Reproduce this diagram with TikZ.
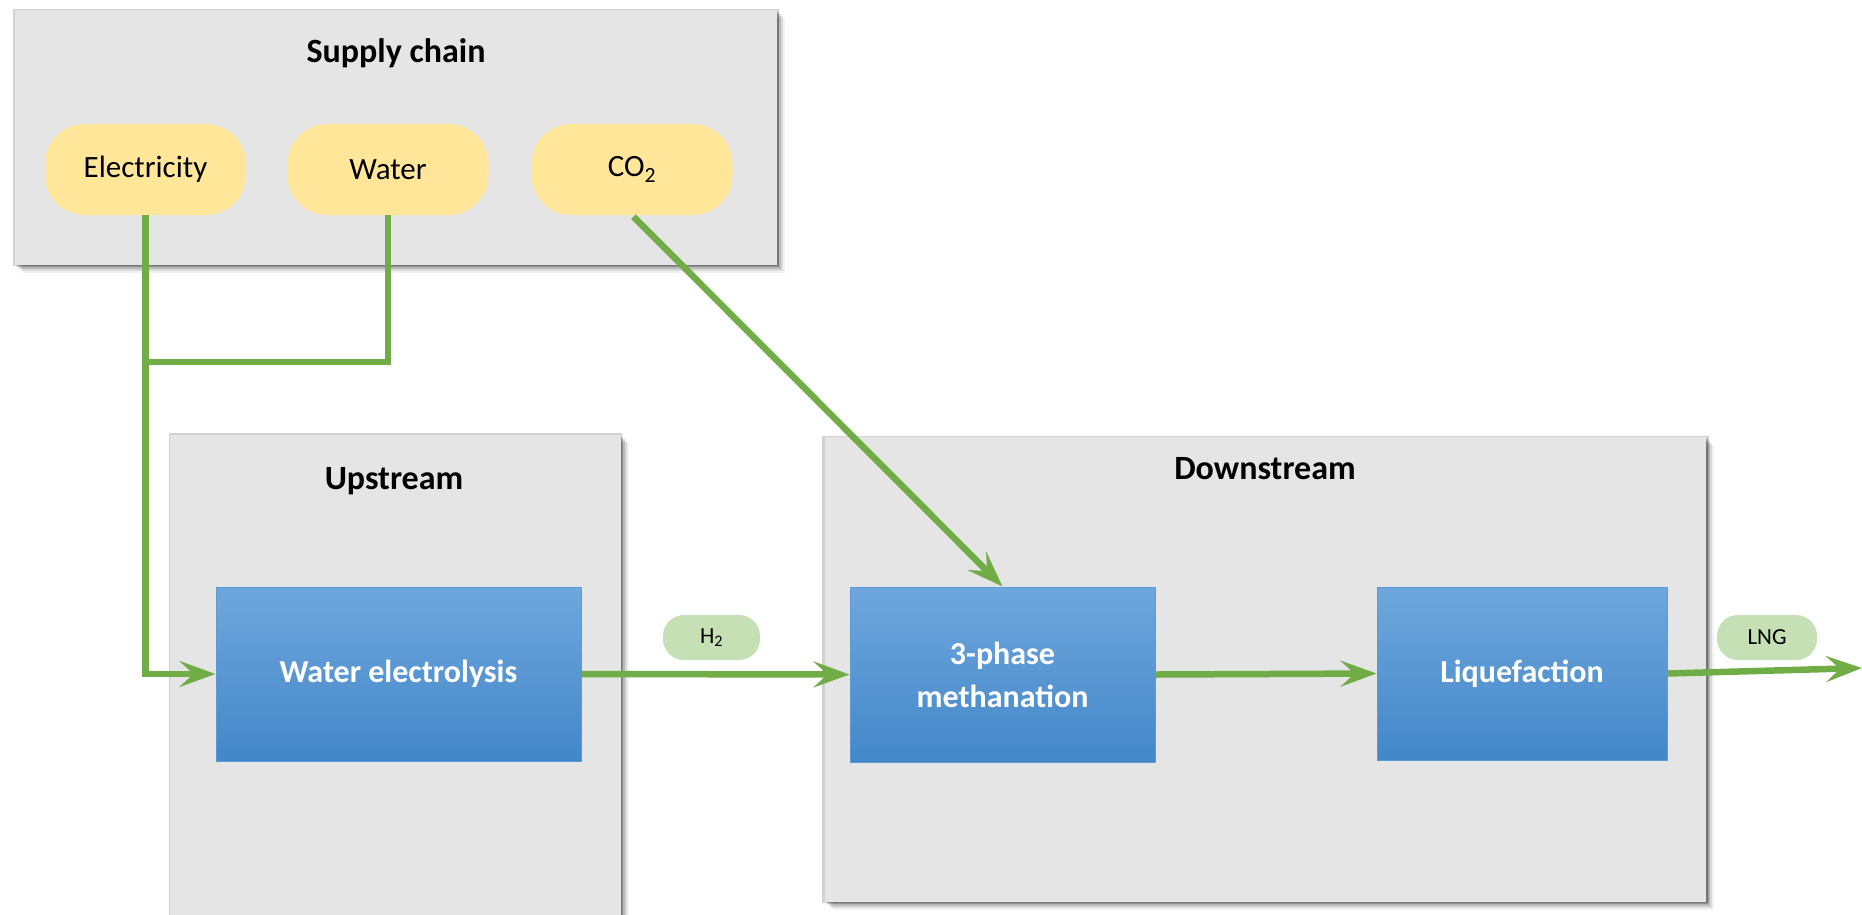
\documentclass[tikz,border=0pt]{standalone}
\usepackage{fontspec}
\setmainfont{Carlito}
\usetikzlibrary{arrows.meta,shadows}
\definecolor{panelgray}{HTML}{E5E5E5}
\definecolor{pillyellow}{HTML}{FFE699}
\definecolor{pillgreen}{HTML}{C5E0B4}
\definecolor{flowgreen}{HTML}{70AD47}
\definecolor{bluetop}{HTML}{6FA7DD}
\definecolor{bluebot}{HTML}{4387C9}
\definecolor{blueedge}{HTML}{5B9BD5}
\tikzset{
  container/.style={fill=panelgray, inner sep=0pt, draw=none,
    drop shadow={shadow xshift=2pt, shadow yshift=-2pt, opacity=.22, fill=black},
    drop shadow={shadow xshift=4pt, shadow yshift=-4pt, opacity=.15, fill=black},
    drop shadow={shadow xshift=6pt, shadow yshift=-6pt, opacity=.10, fill=black},
    drop shadow={shadow xshift=8pt, shadow yshift=-8pt, opacity=.05, fill=black},
    drop shadow={shadow xshift=0pt, shadow yshift=0pt, shadow scale=1.006, opacity=.18, fill=black}},
  paneltitle/.style={font=\fontsize{34}{40}\selectfont\bfseries, text=black},
  supply/.style={fill=pillyellow, rounded corners=40pt, minimum width=201pt,
    minimum height=91pt, inner sep=0pt, font=\fontsize{31}{36}\selectfont},
  tag/.style={fill=pillgreen, rounded corners=21pt, minimum height=45pt,
    inner sep=0pt, font=\fontsize{23}{28}\selectfont},
  process/.style={top color=bluetop, bottom color=bluebot, draw=blueedge,
    line width=1pt, inner sep=0pt, text=white, align=center,
    font=\fontsize{32}{38}\selectfont\bfseries},
  flow/.style={draw=flowgreen, line width=6.5pt},
  flowarrow/.style={flow, -{Stealth[length=36pt, width=26pt, inset=14pt]}},
}
\begin{document}
\begin{tikzpicture}[x=1pt, y=-1pt]
\useasboundingbox (0,0) rectangle (1862,914);

% panels
\node[container, minimum width=762pt, minimum height=255pt] (supplybox) at (396,137.5) {};
\node[container, minimum width=451pt, minimum height=540pt] (upbox) at (395.5,705) {};
\node[container, minimum width=881pt, minimum height=465pt] (downbox) at (1265.5,669.5) {};

\node[paneltitle] (supplytitle) at (396,53) {Supply chain};
\node[paneltitle] (uptitle) at (394,481) {Upstream};
\node[paneltitle] (downtitle) at (1265,469) {Downstream};

% supply inputs
\node[supply] (elecp) at (145.5,169.5) {Electricity};
\node[supply] (waterp) at (388,169.5) {Water};
\node[supply] (co2p) at (632,169.5) {CO\textsubscript{2}};

% process steps
\node[process, minimum width=365pt, minimum height=174pt] (wel) at (398.5,674) {Water electrolysis};
\node[process, minimum width=305pt, minimum height=175pt] (meth) at (1002.5,674.5) {3-phase\\[5pt]methanation};
\node[process, minimum width=290pt, minimum height=173pt] (liq) at (1522,673.5) {Liquefaction};

% stream tags
\node[tag, minimum width=97pt] (h2tag) at (711.5,637.5) {H\textsubscript{2}};
\node[tag, minimum width=100pt] (lngtag) at (1767,637.5) {LNG};

\coordinate (join) at (145.5,362);
\coordinate (lngout) at (1862,668);

% flows
\draw[flow] (waterp.south) |- (join);
\draw[flowarrow] (elecp.south) |- (wel.west);
\draw[flowarrow, shorten <=2pt] (co2p.south) -- (meth.north);
\draw[flowarrow] (wel.east) -- (meth.west);
\draw[flowarrow] (meth.east) -- (liq.west);
\draw[flowarrow] (liq.east) -- (lngout);
\end{tikzpicture}
\end{document}
